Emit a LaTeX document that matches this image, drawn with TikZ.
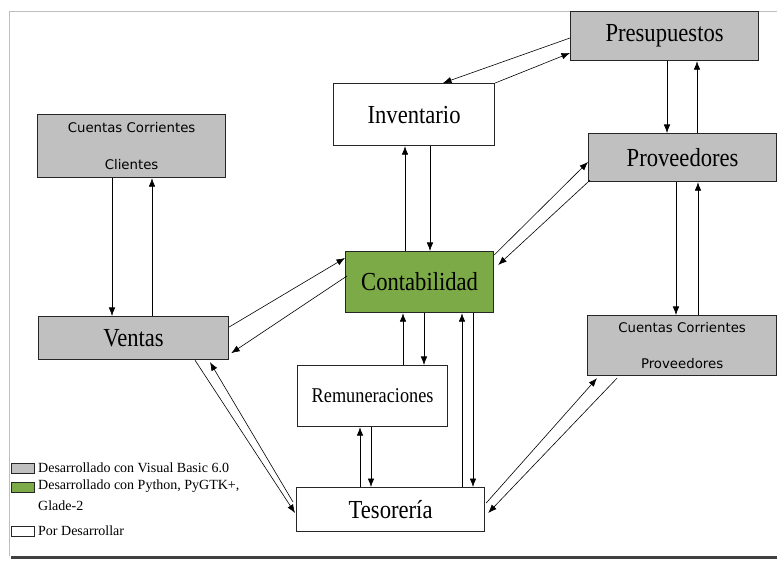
\documentclass[tikz,border=0pt]{standalone}
\usepackage{fontspec}
\setmainfont{Liberation Serif}
\newfontfamily\boxfont[FakeStretch=0.87]{Liberation Serif}
\newfontfamily\sansf{DejaVu Sans}
\usetikzlibrary{arrows.meta,calc}
\definecolor{boxgray}{RGB}{192,192,192}
\definecolor{boxgreen}{RGB}{124,170,70}
\definecolor{framegray}{RGB}{190,190,190}
\tikzset{
  box/.style={draw=black!85, line width=1.2pt, inner sep=0pt, anchor=north west,
    font=\boxfont\fontsize{26}{30}\selectfont},
  gbox/.style={box, fill=boxgray},
  sbox/.style={gbox, align=center, font=\sansf\fontsize{13.3}{36.5}\selectfont},
  arr/.style={-{Latex[length=8.5pt,width=6.5pt]}, line width=0.6pt},
  swatch/.style={draw=black!85, line width=0.8pt, minimum width=23pt, minimum height=10pt, inner sep=0pt, anchor=north west},
  legtext/.style={anchor=west, inner sep=0pt, font=\fontsize{14}{21}\selectfont, align=left}
}
\begin{document}
\begin{tikzpicture}[x=1pt,y=-1pt]
\useasboundingbox (0,0) rectangle (777,561);
% page frame
\draw[framegray, line width=0.8pt] (9,556) -- (9,11) -- (777,11);
\draw[black!75, line width=3pt] (11,557) -- (777,557);
% boxes
\node[gbox, minimum width=188pt, minimum height=49pt] (pres) at (570,11) {Presupuestos};
\node[box, minimum width=161pt, minimum height=62pt] (inv) at (333,83) {Inventario};
\node[sbox, minimum width=188pt, minimum height=63pt] (ccc) at (37,114) {Cuentas Corrientes\\Clientes};
\node[gbox, minimum width=188pt, minimum height=48pt] (prov) at (588,133) {Proveedores};
\node[box, fill=boxgreen, minimum width=148pt, minimum height=61pt] (cont) at (345,251) {Contabilidad};
\node[gbox, minimum width=190pt, minimum height=43pt] (ventas) at (38,316) {Ventas};
\node[sbox, minimum width=189pt, minimum height=60pt] (ccp) at (587,315) {Cuentas Corrientes\\Proveedores};
\node[box, minimum width=150pt, minimum height=61pt, font=\boxfont\fontsize{21}{25}\selectfont] (rem) at (297,365) {Remuneraciones};
\node[box, minimum width=188pt, minimum height=44pt] (tes) at (296,487) {Tesorería};
% connectors
\draw[arr] ($(pres.north west)+(0,27)$) -- ($(inv.north west)+(110,0)$);
\draw[arr] (inv.north east) -- ($(pres.north west)+(0,42)$);
\draw[arr] ($(pres.south west)+(97,0)$) -- ($(prov.north west)+(79,0)$);
\draw[arr] ($(prov.north west)+(109,0)$) -- ($(pres.south west)+(127,0)$);
\draw[arr] ($(prov.south west)+(88,0)$) -- ($(ccp.north west)+(89,0)$);
\draw[arr] ($(ccp.north west)+(111,0)$) -- ($(prov.south west)+(110,0)$);
\draw[arr] ($(cont.north west)+(60,0)$) -- ($(inv.south west)+(72,0)$);
\draw[arr] ($(inv.south west)+(97,0)$) -- ($(cont.north west)+(85,0)$);
\draw[arr] ($(cont.north east)+(0,4)$) -- ($(prov.north west)+(0,29)$);
\draw[arr] ($(prov.south west)+(2,-2)$) -- ($(cont.north east)+(4,14)$);
\draw[arr] ($(ventas.north east)+(0,11)$) -- ($(cont.north west)+(0,7)$);
\draw[arr] ($(cont.north west)+(2,25)$) -- ($(ventas.south east)+(2,-7)$);
\draw[arr] ($(ventas.south west)+(157,0)$) -- ($(tes.north west)+(-1,26)$);
\draw[arr] ($(tes.north west)+(-3,15)$) -- ($(ventas.south west)+(172,2)$);
\draw[arr] ($(rem.north west)+(106,0)$) -- ($(cont.south west)+(58,0)$);
\draw[arr] ($(cont.south west)+(79,0)$) -- ($(rem.north west)+(127,0)$);
\draw[arr] ($(tes.north west)+(166,0)$) -- ($(cont.south west)+(117,0)$);
\draw[arr] ($(cont.south west)+(128,0)$) -- ($(tes.north west)+(177,0)$);
\draw[arr] ($(tes.north west)+(64,0)$) -- ($(rem.south west)+(63,0)$);
\draw[arr] ($(rem.south west)+(74,0)$) -- ($(tes.north west)+(75,0)$);
\draw[arr] ($(tes.north east)+(1,16)$) -- ($(ccp.south west)+(10,2)$);
\draw[arr] ($(ccp.south west)+(30,2)$) -- ($(tes.north east)+(3,26)$);
\draw[arr] ($(ccc.south west)+(75,0)$) -- ($(ventas.north west)+(74,0)$);
\draw[arr] ($(ventas.north west)+(114,0)$) -- ($(ccc.south west)+(115,0)$);
% legend
\node[swatch, fill=boxgray] (lg1) at (11,463) {};
\node[legtext] (lt1) at (38,468) {Desarrollado con Visual Basic 6.0};
\node[swatch, fill=boxgreen] (lg2) at (11,482) {};
\node[legtext, anchor=north west] (lt2) at (38,480) {Desarrollado con Python, PyGTK+,\\Glade-2};
\node[swatch, fill=white] (lg3) at (11,526) {};
\node[legtext] (lt3) at (38,531) {Por Desarrollar};
\end{tikzpicture}
\end{document}
